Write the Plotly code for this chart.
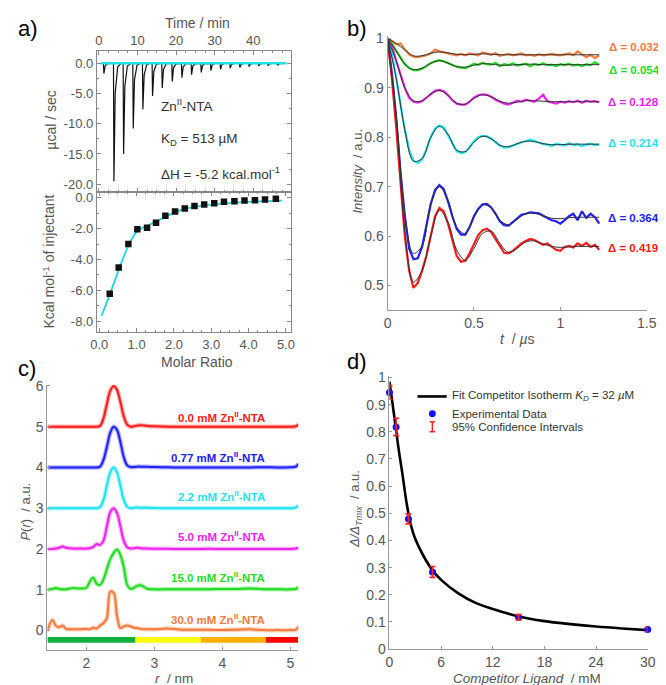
import plotly.graph_objects as go

W, H = 666, 685
def fx(p): return p / W
def fy(p): return 1 - p / H

FONT = "Liberation Sans, Arial, sans-serif"
GRAY = "#555555"
AXC = "#999999"

# ---------------- Panel a: ITC ----------------
inj_time = [1.2, 3.8, 6.3, 8.8, 11.3, 13.8, 16.3, 18.9, 21.4, 23.9, 26.4, 28.9, 31.4, 33.9, 36.4, 38.8, 41.3, 43.7, 46.2]
inj_peak = [-1.7, -19.5, -15.0, -10.8, -7.6, -5.4, -4.1, -3.0, -2.4, -1.9, -1.5, -1.2, -1.0, -0.8, -0.7, -0.55, -0.45, -0.4, -0.35]
baseline_time = [0.5, 48.5]
baseline_val = [0.0, 0.0]
iso_ratio = [0.28, 0.52, 0.78, 1.02, 1.28, 1.52, 1.77, 2.03, 2.29, 2.55, 2.81, 3.08, 3.34, 3.62, 3.89, 4.17, 4.44, 4.73]
iso_kcal = [-6.22, -4.51, -2.99, -2.04, -1.94, -1.62, -1.18, -0.89, -0.71, -0.55, -0.44, -0.36, -0.27, -0.23, -0.19, -0.17, -0.13, -0.08]
fit_ratio = [0.06, 0.2, 0.35, 0.5, 0.65, 0.8, 0.9, 1.0, 1.1, 1.3, 1.5, 1.75, 2.0, 2.5, 3.0, 3.5, 4.0, 4.5, 4.9]
fit_kcal = [-7.65, -6.77, -5.8, -4.8, -3.85, -3.0, -2.55, -2.22, -2.03, -1.8, -1.57, -1.28, -0.97, -0.62, -0.45, -0.35, -0.28, -0.23, -0.2]

# ---------------- Panel b: PELDOR traces ----------------
t_data = [0.0, 0.025, 0.05, 0.075, 0.1, 0.125, 0.15, 0.175, 0.2, 0.225, 0.25, 0.275, 0.3, 0.325, 0.35, 0.375,
          0.4, 0.425, 0.45, 0.475, 0.5, 0.525, 0.55, 0.575, 0.6, 0.625, 0.65, 0.675, 0.7, 0.725, 0.75, 0.775,
          0.8, 0.825, 0.85, 0.875, 0.9, 0.925, 0.95, 0.975, 1.0, 1.025, 1.05, 1.075, 1.1, 1.125, 1.15, 1.175,
          1.2, 1.225]
sig_0032 = [1.0, 0.995, 0.988, 0.99, 0.978, 0.968, 0.963, 0.962, 0.964, 0.966, 0.97, 0.977, 0.974, 0.972, 0.97, 0.968,
            0.966, 0.969, 0.966, 0.97, 0.968, 0.966, 0.972, 0.969, 0.967, 0.97, 0.965, 0.967, 0.969, 0.966, 0.968, 0.97,
            0.966, 0.967, 0.965, 0.968, 0.966, 0.967, 0.969, 0.967, 0.966, 0.968, 0.97, 0.966, 0.974, 0.968, 0.962, 0.967,
            0.96, 0.966]
sig_0054 = [1.0, 0.99, 0.975, 0.96, 0.948, 0.94, 0.936, 0.936, 0.939, 0.944, 0.95, 0.954, 0.956, 0.954, 0.95, 0.946,
            0.943, 0.941, 0.94, 0.944, 0.949, 0.946, 0.951, 0.948, 0.947, 0.951, 0.944, 0.948, 0.946, 0.95, 0.945, 0.947,
            0.949, 0.944, 0.948, 0.946, 0.95, 0.946, 0.947, 0.944, 0.948, 0.946, 0.949, 0.945, 0.947, 0.944, 0.948, 0.946,
            0.952, 0.947]
sig_0128 = [1.0, 0.985, 0.955, 0.925, 0.9, 0.88, 0.872, 0.87, 0.873, 0.88, 0.888, 0.894, 0.896, 0.893, 0.885, 0.875,
            0.868, 0.866, 0.866, 0.872, 0.88, 0.885, 0.887, 0.886, 0.882, 0.876, 0.872, 0.868, 0.866, 0.87, 0.874, 0.872,
            0.876, 0.874, 0.872, 0.878, 0.886, 0.873, 0.87, 0.868, 0.872, 0.87, 0.873, 0.871, 0.874, 0.87, 0.874, 0.872,
            0.873, 0.871]
sig_0214 = [1.0, 0.97, 0.92, 0.865, 0.815, 0.775, 0.752, 0.748, 0.755, 0.775, 0.8, 0.818, 0.824, 0.82, 0.805, 0.787,
            0.772, 0.768, 0.77, 0.78, 0.792, 0.8, 0.803, 0.802, 0.797, 0.79, 0.783, 0.779, 0.78, 0.783, 0.787, 0.79,
            0.792, 0.795, 0.793, 0.79, 0.786, 0.785, 0.782, 0.787, 0.785, 0.783, 0.788, 0.784, 0.786, 0.782, 0.785, 0.787,
            0.784, 0.785]
sig_0364 = [1.0, 0.93, 0.84, 0.73, 0.64, 0.575, 0.553, 0.555, 0.578, 0.62, 0.665, 0.693, 0.703, 0.695, 0.67, 0.64,
            0.615, 0.603, 0.603, 0.618, 0.64, 0.655, 0.664, 0.665, 0.658, 0.645, 0.63, 0.622, 0.621, 0.628, 0.635, 0.643,
            0.645, 0.648, 0.647, 0.646, 0.641, 0.636, 0.632, 0.63, 0.625, 0.632, 0.64, 0.645, 0.632, 0.65, 0.637, 0.645,
            0.638, 0.625]
sig_0419 = [1.0, 0.92, 0.82, 0.7, 0.6, 0.53, 0.495, 0.505, 0.53, 0.56, 0.6, 0.64, 0.657, 0.65, 0.625, 0.59,
            0.56, 0.548, 0.55, 0.565, 0.585, 0.602, 0.612, 0.615, 0.608, 0.595, 0.58, 0.566, 0.565, 0.57, 0.578, 0.585,
            0.59, 0.594, 0.592, 0.587, 0.582, 0.585, 0.578, 0.572, 0.57, 0.578, 0.58, 0.577, 0.585, 0.58, 0.586, 0.578,
            0.582, 0.572]
t_fit = [0.0, 0.05, 0.1, 0.15, 0.2, 0.25, 0.3, 0.35, 0.4, 0.45, 0.5, 0.55, 0.6, 0.65, 0.7, 0.75, 0.8, 0.85, 0.9,
         0.95, 1.0, 1.05, 1.1, 1.15, 1.225]
fit_0032 = [1.0, 0.99, 0.977, 0.965, 0.965, 0.97, 0.973, 0.971, 0.968, 0.967, 0.968, 0.969, 0.968, 0.967, 0.967,
            0.967, 0.967, 0.967, 0.967, 0.967, 0.967, 0.967, 0.967, 0.967, 0.967]
fit_0054 = [1.0, 0.975, 0.948, 0.937, 0.94, 0.95, 0.955, 0.95, 0.943, 0.942, 0.946, 0.949, 0.948, 0.946, 0.946,
            0.947, 0.948, 0.948, 0.947, 0.947, 0.947, 0.947, 0.947, 0.947, 0.947]
fit_0128 = [1.0, 0.955, 0.9, 0.874, 0.874, 0.888, 0.895, 0.885, 0.869, 0.867, 0.879, 0.886, 0.882, 0.873, 0.869,
            0.871, 0.874, 0.874, 0.873, 0.872, 0.872, 0.872, 0.872, 0.872, 0.872]
fit_0214 = [1.0, 0.92, 0.815, 0.752, 0.757, 0.8, 0.822, 0.806, 0.774, 0.771, 0.79, 0.802, 0.797, 0.784, 0.781,
            0.787, 0.792, 0.791, 0.787, 0.785, 0.785, 0.786, 0.786, 0.786, 0.786]
fit_0364 = [1.0, 0.845, 0.645, 0.565, 0.58, 0.665, 0.7, 0.672, 0.618, 0.605, 0.638, 0.663, 0.657, 0.632, 0.623,
            0.634, 0.645, 0.646, 0.641, 0.636, 0.635, 0.637, 0.638, 0.638, 0.638]
fit_0419 = [1.0, 0.84, 0.61, 0.507, 0.53, 0.6, 0.652, 0.628, 0.572, 0.551, 0.575, 0.605, 0.61, 0.585, 0.567,
            0.575, 0.588, 0.59, 0.584, 0.579, 0.577, 0.578, 0.579, 0.579, 0.579]
b_labels = ["Δ = 0.032", "Δ = 0.054", "Δ = 0.128", "Δ = 0.214", "Δ = 0.364", "Δ = 0.419"]
b_colors = ["#f47a3c", "#1fdc1f", "#ee22ee", "#1ee4ee", "#2020ff", "#ff1a1a"]

# ---------------- Panel c: distance distributions ----------------
r_grid = [1.43, 1.5, 1.55, 1.6, 1.65, 1.7, 1.8, 1.9, 2.0, 2.05, 2.1, 2.15, 2.2, 2.25, 2.3, 2.35, 2.4, 2.45, 2.5,
          2.55, 2.6, 2.65, 2.7, 2.75, 2.8, 2.9, 3.0, 3.2, 3.4, 3.6, 3.8, 4.0, 4.2, 4.4, 4.6, 4.8, 5.0, 5.08, 5.12]
p_00 = [0, 0, 0, 0, 0, 0, 0, 0, 0, 0, 0, 0, 0.02, 0.2, 0.55, 0.88, 1.0, 0.9, 0.6, 0.25, 0.05, 0.0, 0.01, 0.03,
        0.035, 0.02, 0.01, 0, 0, 0, 0, 0, 0, 0, 0, 0, 0, 0.01, 0.06]
p_077 = [0, 0, 0, 0, 0, 0, 0, 0, 0, 0, 0, 0, 0.02, 0.18, 0.5, 0.85, 1.0, 0.92, 0.62, 0.25, 0.05, 0.01, 0.01, 0.02,
         0.02, 0.015, 0.01, 0.005, 0, 0, 0, 0, 0, 0, 0.005, 0, 0.005, 0.02, 0.09]
p_22 = [0, 0, 0, 0, 0, 0, 0, 0, 0, 0, 0, 0, 0.03, 0.2, 0.55, 0.88, 1.0, 0.88, 0.55, 0.2, 0.04, 0.0, 0.01, 0.015,
        0.01, 0.01, 0.005, 0, 0, 0, 0, 0, 0, 0, 0, 0, 0, 0.02, 0.07]
p_50 = [0, 0, 0.01, 0.03, 0.06, 0.03, 0.01, 0.01, 0.01, 0.02, 0.05, 0.12, 0.1, 0.2, 0.55, 0.9, 1.0, 0.88, 0.55,
        0.2, 0.04, 0.01, 0.02, 0.03, 0.02, 0.01, 0.005, 0.005, 0, 0, 0.005, 0, 0, 0, 0, 0, 0, 0.01, 0.03]
p_150 = [0, 0.02, 0.04, 0.02, 0.01, 0.01, 0.04, 0.03, 0.05, 0.2, 0.3, 0.15, 0.12, 0.25, 0.5, 0.75, 0.9, 0.99, 0.85,
         0.55, 0.12, 0.02, 0.05, 0.1, 0.11, 0.02, 0.01, 0.01, 0.01, 0.01, 0.015, 0.02, 0.02, 0.03, 0.015, 0.01, 0.01,
         0.02, 0.07]
p_300 = [0.02, 0.26, 0.12, 0.08, 0.12, 0.04, 0.03, 0.03, 0.04, 0.03, 0.07, 0.05, 0.12, 0.18, 0.3, 0.95, 0.93, 0.35,
         0.06, 0.1, 0.12, 0.1, 0.07, 0.06, 0.04, 0.03, 0.03, 0.05, 0.02, 0.02, 0.02, 0.01, 0.02, 0.03, 0.01, 0.01,
         0.01, 0.02, 0.1]
c_offsets = [5, 4, 3, 2, 1, 0]
c_labels = ["0.0 mM Zn<sup>II</sup>-NTA", "0.77 mM Zn<sup>II</sup>-NTA", "2.2 mM Zn<sup>II</sup>-NTA",
            "5.0 mM Zn<sup>II</sup>-NTA", "15.0 mM Zn<sup>II</sup>-NTA", "30.0 mM Zn<sup>II</sup>-NTA"]
c_colors = ["#ff1a1a", "#2020ff", "#1ee4ee", "#ee22ee", "#1fdc1f", "#f47a3c"]
bar_edges = [1.427, 2.72, 3.68, 4.64, 5.115]
bar_colors = ["#10b040", "#ffff10", "#ffb000", "#ff0000"]

# ---------------- Panel d: competition isotherm ----------------
conc = [0.0, 0.77, 2.2, 5.0, 15.0, 30.0]
ratio = [0.945, 0.818, 0.479, 0.284, 0.117, 0.072]
ci95 = [0.025, 0.032, 0.018, 0.02, 0.01, 0.008]
fit_conc = [0, 0.5, 1.0, 1.5, 2.0, 2.5, 3.0, 4.0, 5.0, 6.0, 8.0, 10.0, 12.0, 15.0, 18.0, 21.0, 24.0, 27.0, 30.0]
fit_delta = [0.985, 0.87, 0.75, 0.645, 0.535, 0.455, 0.405, 0.34, 0.29, 0.255, 0.205, 0.17, 0.148, 0.12, 0.103,
             0.092, 0.083, 0.076, 0.07]

fig = go.Figure()

# panel a top
therm_x, therm_y = [], []
for t, d in zip(inj_time, inj_peak):
    therm_x += [t, t + 0.12, t + 0.45, t + 1.1, t + 2.0]
    therm_y += [0.0, d, 0.25 * d, 0.03 * d, 0.0]
fig.add_trace(go.Scatter(x=therm_x, y=therm_y, mode="lines", line=dict(color="#111111", width=1.2),
                         xaxis="x", yaxis="y"))
fig.add_trace(go.Scatter(x=baseline_time, y=baseline_val, mode="lines", line=dict(color="#1fe0e6", width=2.5),
                         xaxis="x", yaxis="y"))
# panel a bottom
fig.add_trace(go.Scatter(x=fit_ratio, y=fit_kcal, mode="lines", line=dict(color="#1fd6e0", width=1.8, shape="spline"),
                         xaxis="x2", yaxis="y2"))
fig.add_trace(go.Scatter(x=iso_ratio, y=iso_kcal, mode="markers",
                         marker=dict(symbol="square", size=6.5, color="#111111"), xaxis="x2", yaxis="y2"))

# panel b
sigs = [sig_0032, sig_0054, sig_0128, sig_0214, sig_0364, sig_0419]
fits = [fit_0032, fit_0054, fit_0128, fit_0214, fit_0364, fit_0419]
for s, col in zip(sigs, b_colors):
    fig.add_trace(go.Scatter(x=t_data, y=s, mode="lines", line=dict(color=col, width=2.2),
                             xaxis="x3", yaxis="y3"))
for f in fits:
    fig.add_trace(go.Scatter(x=t_fit, y=f, mode="lines", line=dict(color="#333333", width=1.0, shape="spline"),
                             xaxis="x3", yaxis="y3"))

# panel c
fig.add_trace(go.Bar(x=[bar_edges[i + 1] - bar_edges[i] for i in range(4)], base=bar_edges[:4],
                     y=[-0.23] * 4, orientation="h", width=0.14, marker=dict(color=bar_colors, line=dict(width=0)),
                     xaxis="x4", yaxis="y4"))
for p, off, col in zip([p_00, p_077, p_22, p_50, p_150, p_300], c_offsets, c_colors):
    yy = [v + off for v in p]
    fig.add_trace(go.Scatter(x=r_grid, y=yy, mode="lines", line=dict(color=col, width=4.5, shape="spline"),
                             opacity=0.35, xaxis="x4", yaxis="y4"))
    fig.add_trace(go.Scatter(x=r_grid, y=yy, mode="lines", line=dict(color=col, width=2, shape="spline"),
                             xaxis="x4", yaxis="y4"))

# panel d
fig.add_trace(go.Scatter(x=fit_conc, y=fit_delta, mode="lines", line=dict(color="black", width=2.6, shape="spline"),
                         xaxis="x5", yaxis="y5", cliponaxis=False))
fig.add_trace(go.Scatter(x=conc, y=ratio, mode="markers", marker=dict(color="#1010ff", size=7),
                         xaxis="x5", yaxis="y5", cliponaxis=False))
fig.add_trace(go.Scatter(x=conc, y=ratio, mode="markers", marker=dict(opacity=0, size=2),
                         error_y=dict(type="data", array=ci95, color="#ff2020", thickness=1.6, width=3),
                         xaxis="x5", yaxis="y5", cliponaxis=False))

tickfont = dict(family=FONT, size=13, color=GRAY)
box = dict(showline=True, linecolor="#888888", linewidth=1, mirror="ticks", ticks="inside", ticklen=4,
           tickcolor="#888888", showgrid=False, zeroline=False, tickfont=tickfont)
open_ax = dict(showline=True, linecolor=AXC, linewidth=1, ticks="inside", ticklen=3, tickcolor=AXC,
               showgrid=False, zeroline=False, tickfont=dict(family=FONT, size=14, color=GRAY))

fig.update_layout(
    width=W, height=H, margin=dict(l=0, r=0, t=0, b=0), paper_bgcolor="white", plot_bgcolor="white",
    showlegend=False, font=dict(family=FONT),
    xaxis=dict(box, domain=[fx(84), fx(283)], range=[-0.5, 49.7], side="top", anchor="y",
               tickvals=[0, 10, 20, 30, 40], minor=dict(dtick=2.5, ticklen=2, ticks="inside", tickcolor="#888888")),
    yaxis=dict(box, domain=[fy(181), fy(37)], range=[-21.3, 2.0], anchor="x",
               tickvals=[0, -5, -10, -15, -20], ticktext=["0.0", "-5.0", "-10.0", "-15.0", "-20.0"],
               minor=dict(dtick=2.5, ticklen=2, ticks="inside", tickcolor="#888888")),
    xaxis2=dict(box, domain=[fx(84), fx(283)], range=[-0.065, 5.13], anchor="y2",
                tickvals=[0, 1, 2, 3, 4, 5], ticktext=["0.0", "1.0", "2.0", "3.0", "4.0", "5.0"],
                minor=dict(dtick=0.25, ticklen=2, ticks="inside", tickcolor="#888888")),
    yaxis2=dict(box, domain=[fy(324.5), fy(181)], range=[-8.71, 0.36], anchor="x2",
                tickvals=[0, -2, -4, -6, -8], ticktext=["0.0", "-2.0", "-4.0", "-6.0", "-8.0"],
                minor=dict(dtick=1, ticklen=2, ticks="inside", tickcolor="#888888")),
    xaxis3=dict(open_ax, domain=[fx(382.3), fx(648.3)], range=[0, 1.5], anchor="y3",
                tickvals=[0, 0.5, 1, 1.5], ticktext=["0", "0.5", "1", "1.5"]),
    yaxis3=dict(open_ax, domain=[fy(301.7), fy(21.5)], range=[0.45, 1.005], anchor="x3",
                tickvals=[0.5, 0.6, 0.7, 0.8, 0.9, 1.0], ticktext=["0.5", "0.6", "0.7", "0.8", "0.9", "1"]),
    xaxis4=dict(open_ax, domain=[fx(33.3), fx(290.7)], range=[1.427, 5.115], anchor="y4",
                tickvals=[2, 3, 4, 5]),
    yaxis4=dict(open_ax, domain=[fy(649.3), fy(378)], range=[-0.48, 6.03], anchor="x4",
                tickvals=[0, 1, 2, 3, 4, 5, 6]),
    xaxis5=dict(open_ax, domain=[fx(384.3), fx(649.3)], range=[0, 30], anchor="y5",
                tickvals=[0, 6, 12, 18, 24, 30]),
    yaxis5=dict(open_ax, domain=[fy(648.3), fy(369.5)], range=[0, 1.004], anchor="x5",
                tickvals=[0, 0.1, 0.2, 0.3, 0.4, 0.5, 0.6, 0.7, 0.8, 0.9, 1.0],
                ticktext=["0", "0.1", "0.2", "0.3", "0.4", "0.5", "0.6", "0.7", "0.8", "0.9", "1"]),
)

ann = []
def txt(x, y, text, size=14, color=GRAY, xanchor="center", angle=0, bold=False, family=FONT):
    if bold:
        text = "<b>" + text + "</b>"
    ann.append(dict(x=fx(x), y=fy(y), xref="paper", yref="paper", text=text, showarrow=False,
                    xanchor=xanchor, yanchor="middle", textangle=angle,
                    font=dict(family=family, size=size, color=color)))

# panel letters
txt(13, 14, "a)", size=22, color="black")
txt(351, 14, "b)", size=22, color="black")
txt(12, 361, "c)", size=22, color="black")
txt(351, 354, "d)", size=22, color="black")

# panel a titles and texts
txt(187, 8, "Time / min", size=14)
txt(187, 355, "Molar Ratio", size=14)
txt(37, 108, "µcal / sec", size=14, angle=-90)
txt(35, 252, "Kcal mol<sup>-1</sup> of injectant", size=14, angle=-90)
txt(148, 92, "Zn<sup>II</sup>-NTA", size=13.5, color="#333333", xanchor="left")
txt(148, 127, "K<sub>D</sub> = 513 µM", size=13.5, color="#333333", xanchor="left")
txt(148, 162, "ΔH = -5.2 kcal.mol<sup>-1</sup>", size=13.5, color="#333333", xanchor="left")

# panel b
txt(351, 160, "<i>Intensity</i>  / a.u.", size=13, angle=-90)
txt(516, 331, "<i>t</i>  / <i>µ</i>s", size=14)
b_label_px = [(608, 33), (607, 56), (606, 89), (606, 131), (606, 208), (606, 238)]
for (px, py), lab, col in zip(b_label_px, b_labels, b_colors):
    txt(px, py, lab, size=11.5, color=col, xanchor="left", bold=True)

# panel c
txt(11, 508, "<i>P</i>(<i>r</i>)  / a.u.", size=13, angle=-90)
txt(163, 678, "<i>r</i>  / nm", size=13.5)
c_label_py = [411, 452, 492, 533, 575, 618]
for py, lab, col in zip(c_label_py, c_labels, c_colors):
    txt(258.5, py, lab, size=11.5, color=col, xanchor="right", bold=True)

# panel d
txt(350, 505, "<i>Δ/Δ<sub>Tmix</sub></i>  / a.u.", size=13, angle=-90)
txt(525, 678, "<i>Competitor Ligand</i>  / mM", size=13.5)
txt(446, 390, "Fit Competitor Isotherm <i>K<sub>D</sub></i> = 32 <i>µ</i>M", size=11.5, color="#333333", xanchor="left")
txt(446, 408, "Experimental Data", size=11.5, color="#333333", xanchor="left")
txt(446, 421, "95% Confidence Intervals", size=11.5, color="#333333", xanchor="left")

legend_shapes = [
    dict(type="line", xref="paper", yref="paper", x0=fx(413), x1=fx(443), y0=fy(390), y1=fy(390),
         line=dict(color="black", width=2.6)),
    dict(type="circle", xref="paper", yref="paper", x0=fx(424.8), x1=fx(431.8), y0=fy(411.2), y1=fy(404.2),
         fillcolor="#1010ff", line=dict(width=0)),
    dict(type="line", xref="paper", yref="paper", x0=fx(428.3), x1=fx(428.3), y0=fy(426), y1=fy(416),
         line=dict(color="#ff2020", width=1.5)),
    dict(type="line", xref="paper", yref="paper", x0=fx(425.5), x1=fx(431.1), y0=fy(426), y1=fy(426),
         line=dict(color="#ff2020", width=1.5)),
    dict(type="line", xref="paper", yref="paper", x0=fx(425.5), x1=fx(431.1), y0=fy(416), y1=fy(416),
         line=dict(color="#ff2020", width=1.5)),
]

fig.update_layout(annotations=ann, shapes=legend_shapes)

fig.write_html("out.html")
